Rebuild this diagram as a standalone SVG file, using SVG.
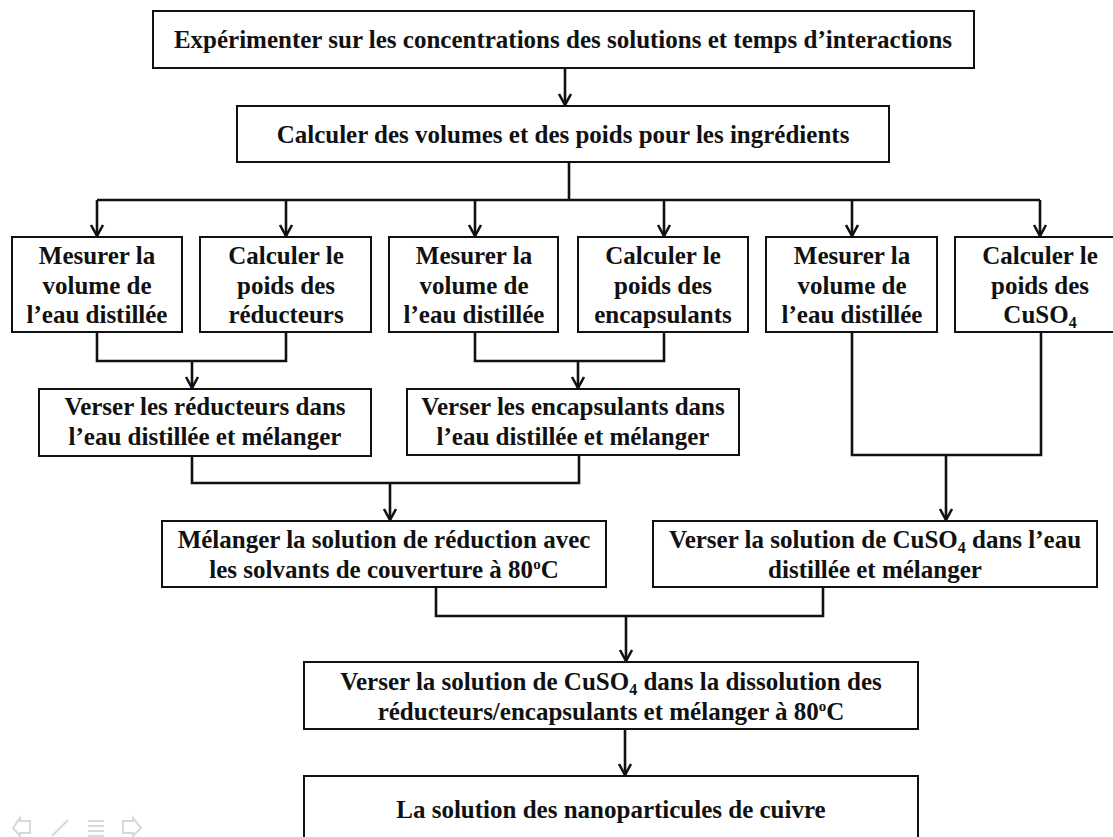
<svg xmlns="http://www.w3.org/2000/svg" width="1113" height="837" viewBox="0 0 1113 837">
<style>
.box{fill:#fff;stroke:#111;stroke-width:2}
.t{font-family:"Liberation Serif","Times New Roman",serif;font-weight:bold;font-size:25px;text-anchor:middle;fill:#111}
.ln{fill:none;stroke:#111;stroke-width:2.6}
.ar{fill:none;stroke:#111;stroke-width:2.6;marker-end:url(#ah)}
.nav{fill:none;stroke:#d8d8d8;stroke-width:2}
</style>
<defs>
<marker id="ah" markerUnits="userSpaceOnUse" orient="auto" markerWidth="20" markerHeight="20" viewBox="-14 -10 20 20" refX="0" refY="0" overflow="visible">
<path d="M-11,-6 L0,0 L-11,6" fill="none" stroke="#111" stroke-width="2.6" stroke-linejoin="round"/>
</marker>
</defs>
<rect width="1113" height="837" fill="#fff"/>

<g id="connectors">
<path class="ar" d="M565,68 V105"/>
<path class="ln" d="M569,162 V200 M97,200 H1040"/>
<path class="ar" d="M97,200 V236"/>
<path class="ar" d="M286,200 V236"/>
<path class="ar" d="M475,200 V236"/>
<path class="ar" d="M664,200 V236"/>
<path class="ar" d="M852,200 V236"/>
<path class="ar" d="M1040,200 V236"/>
<path class="ln" d="M97,332 V361 H286 V332"/>
<path class="ar" d="M192,361 V388"/>
<path class="ln" d="M475,332 V361 H664 V332"/>
<path class="ar" d="M578,361 V388"/>
<path class="ln" d="M192,456 V483 H579 V456"/>
<path class="ar" d="M390,483 V520"/>
<path class="ln" d="M852,332 V455 H1041 V332"/>
<path class="ar" d="M946,455 V520"/>
<path class="ln" d="M436,587 V616 H823 V587"/>
<path class="ar" d="M626,616 V661"/>
<path class="ar" d="M625,729 V775"/>
</g>

<g id="n1">
<rect class="box" x="153" y="11" width="821" height="57"/>
<text class="t" x="563" y="48">Expérimenter sur les concentrations des solutions et temps d’interactions</text>
</g>
<g id="n2">
<rect class="box" x="237" y="106" width="652" height="56"/>
<text class="t" x="563" y="143">Calculer des volumes et des poids pour les ingrédients</text>
</g>
<g id="n3a">
<rect class="box" x="12" y="237" width="170" height="95"/>
<text class="t" x="97" y="264">Mesurer la</text>
<text class="t" x="97" y="294">volume de</text>
<text class="t" x="97" y="323">l’eau distillée</text>
</g>
<g id="n3b">
<rect class="box" x="200" y="237" width="171" height="95"/>
<text class="t" x="286" y="264">Calculer le</text>
<text class="t" x="286" y="294">poids des</text>
<text class="t" x="286" y="323">réducteurs</text>
</g>
<g id="n3c">
<rect class="box" x="389" y="237" width="169" height="95"/>
<text class="t" x="474" y="264">Mesurer la</text>
<text class="t" x="474" y="294">volume de</text>
<text class="t" x="474" y="323">l’eau distillée</text>
</g>
<g id="n3d">
<rect class="box" x="578" y="237" width="170" height="95"/>
<text class="t" x="663" y="264">Calculer le</text>
<text class="t" x="663" y="294">poids des</text>
<text class="t" x="663" y="323">encapsulants</text>
</g>
<g id="n3e">
<rect class="box" x="766" y="237" width="171" height="95"/>
<text class="t" x="852" y="264">Mesurer la</text>
<text class="t" x="852" y="294">volume de</text>
<text class="t" x="852" y="323">l’eau distillée</text>
</g>
<g id="n3f">
<rect class="box" x="955" y="237" width="170" height="95"/>
<text class="t" x="1040" y="264">Calculer le</text>
<text class="t" x="1040" y="294">poids des</text>
<text class="t" x="1040" y="323">CuSO<tspan font-size="16" dy="5">4</tspan></text>
</g>
<g id="n4a">
<rect class="box" x="39" y="389" width="332" height="67"/>
<text class="t" x="205" y="415">Verser les réducteurs dans</text>
<text class="t" x="205" y="445">l’eau distillée et mélanger</text>
</g>
<g id="n4b">
<rect class="box" x="407" y="389" width="332" height="66"/>
<text class="t" x="573" y="415">Verser les encapsulants dans</text>
<text class="t" x="573" y="445">l’eau distillée et mélanger</text>
</g>
<g id="n5a">
<rect class="box" x="162" y="521" width="444" height="66"/>
<text class="t" x="384" y="548">Mélanger la solution de réduction avec</text>
<text class="t" x="384" y="578">les solvants de couverture à 80<tspan font-size="15" dy="-9">o</tspan><tspan dy="9">C</tspan></text>
</g>
<g id="n5b">
<rect class="box" x="653" y="521" width="444" height="66"/>
<text class="t" x="875" y="548">Verser la solution de CuSO<tspan font-size="16" dy="5">4</tspan><tspan dy="-5"> dans l’eau</tspan></text>
<text class="t" x="875" y="578">distillée et mélanger</text>
</g>
<g id="n6">
<rect class="box" x="304" y="662" width="614" height="67"/>
<text class="t" x="611" y="690">Verser la solution de CuSO<tspan font-size="16" dy="5">4</tspan><tspan dy="-5"> dans la dissolution des</tspan></text>
<text class="t" x="611" y="720">réducteurs/encapsulants et mélanger à 80<tspan font-size="15" dy="-9">o</tspan><tspan dy="9">C</tspan></text>
</g>
<g id="n7">
<rect class="box" x="304" y="776" width="614" height="70"/>
<text class="t" x="611" y="818">La solution des nanoparticules de cuivre</text>
</g>

<g id="nav">
<path class="nav" d="M30,821 L20,821 L20,818 L13,828 L20,836 L20,833 L30,833 Z"/>
<path class="nav" d="M52,836 L68,820"/>
<path class="nav" d="M88,821 H104 M88,826 H104 M88,831 H104 M88,836 H104"/>
<path class="nav" d="M123,821 L133,821 L133,818 L141,828 L133,836 L133,833 L123,833 Z"/>
</g>
</svg>
